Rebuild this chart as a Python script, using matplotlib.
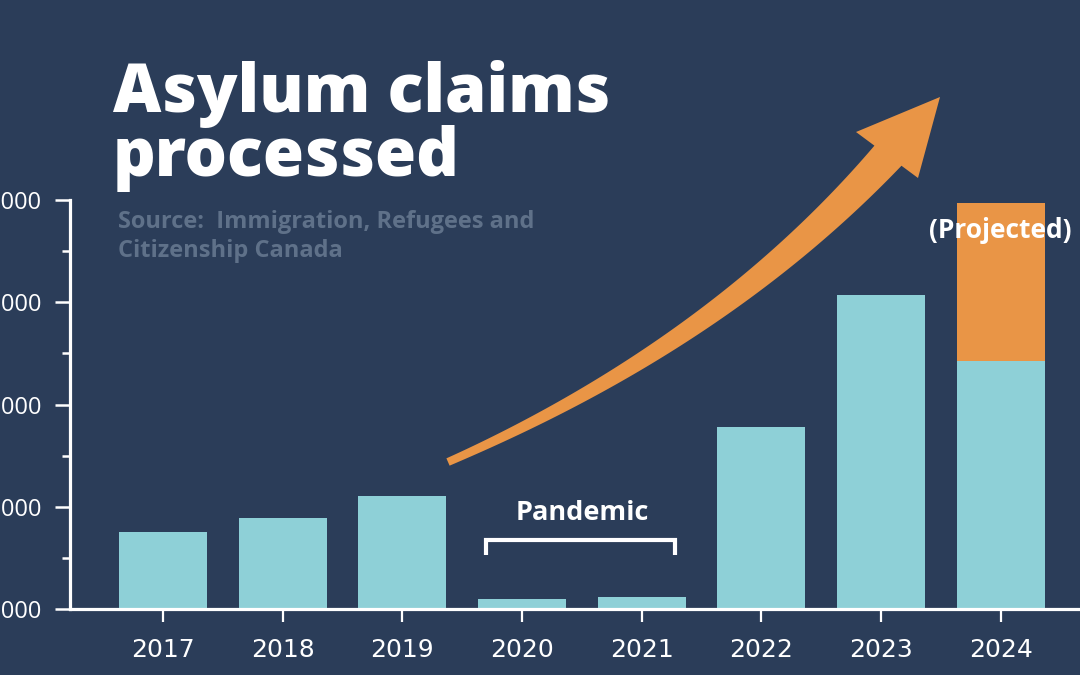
""" Asylum claims processed - bar chart recreation """

import numpy as np
import matplotlib.pyplot as plt
from matplotlib.patches import Polygon
from matplotlib.ticker import FixedLocator

# data
years = ["2017", "2018", "2019", "2020", "2021", "2022", "2023", "2024"]
processed = [35000, 37800, 42100, 21950, 22350, 55600, 81400, 68500]
projected_total = [None, None, None, None, None, None, None, 99400]
y_ticks = [20000, 40000, 60000, 80000, 100000]
y_tick_labels = ["20000", "40000", "60000", "80000", "100000"]
y_minor = [30000, 50000, 70000, 90000]

BG = "#2b3d59"
CYAN = "#8ed0d7"
ORANGE = "#e99546"
GREY = "#5f7189"
WHITE = "#ffffff"

W, H = 1080, 675
fig = plt.figure(figsize=(W / 100, H / 100), dpi=100, facecolor=BG)

# main axes placed in pixel terms
left, right, top, bottom = 70, 1080, 200, 609
ax = fig.add_axes([left / W, (H - bottom) / H, (right - left) / W, (bottom - top) / H])
ax.set_facecolor(BG)

x = np.arange(len(years))
ax.bar(x, processed, width=0.735, color=CYAN, zorder=2)
i_proj = len(years) - 1
ax.bar(x[i_proj], projected_total[i_proj] - processed[i_proj], width=0.735,
       bottom=processed[i_proj], color=ORANGE, zorder=2)

ax.set_xlim(-0.777, 7.661)
ax.set_ylim(y_ticks[0], y_ticks[-1])

for s in ["top", "right"]:
    ax.spines[s].set_visible(False)
for s in ["left", "bottom"]:
    ax.spines[s].set_color(WHITE)
    ax.spines[s].set_linewidth(2.3)
    ax.spines[s].set_zorder(3)

ax.set_xticks(x)
ax.set_xticklabels(years, fontsize=18, color=WHITE, family="Liberation Sans Narrow")
ax.tick_params(axis="x", colors=WHITE, length=9, width=1.6, pad=12, labelcolor=WHITE)

ax.yaxis.set_major_locator(FixedLocator(y_ticks))
ax.yaxis.set_minor_locator(FixedLocator(y_minor))
ax.set_yticklabels(y_tick_labels, fontsize=17, color=WHITE, family="Open Sans")
ax.tick_params(axis="y", which="major", colors=WHITE, length=11, width=1.8, pad=9)
ax.tick_params(axis="y", which="minor", colors=WHITE, length=6, width=1.8)

# overlay in pixel coords for annotations
ov = fig.add_axes([0, 0, 1, 1], zorder=5)
ov.set_xlim(0, W)
ov.set_ylim(H, 0)
ov.axis("off")
ov.patch.set_alpha(0)

ov.text(113, 112, "Asylum claims", fontsize=48, fontweight="heavy", color=WHITE,
        family="Open Sans", va="baseline", ha="left")
ov.text(113, 176, "processed", fontsize=48, fontweight="heavy", color=WHITE,
        family="Open Sans", va="baseline", ha="left")
ov.text(118, 228, "Source:  Immigration, Refugees and", fontsize=17, fontweight="bold",
        color=GREY, family="Open Sans", va="baseline", ha="left")
ov.text(118, 257, "Citizenship Canada", fontsize=17, fontweight="bold",
        color=GREY, family="Open Sans", va="baseline", ha="left")

# pandemic bracket
ov.text(582, 520, "Pandemic", fontsize=19.5, fontweight="bold", color=WHITE,
        family="Open Sans", va="baseline", ha="center")
ov.plot([486, 486, 675, 675], [555, 540, 540, 555], color=WHITE, lw=3,
        solid_joinstyle="miter", solid_capstyle="butt")

ov.text(1000, 238, "(Projected)", fontsize=19, fontweight="bold", color=WHITE,
        family="Open Sans", va="baseline", ha="center")

# curved tapering arrow
p0 = np.array([448.0, 462.0])
p1 = np.array([722.0, 342.0])
p2 = np.array([893.0, 150.0])
t = np.linspace(0, 1, 80)[:, None]
pts = (1 - t) ** 2 * p0 + 2 * (1 - t) * t * p1 + t ** 2 * p2
d = 2 * (1 - t) * (p1 - p0) + 2 * t * (p2 - p1)
d = d / np.linalg.norm(d, axis=1, keepdims=True)
nrm = np.column_stack([-d[:, 1], d[:, 0]])
wid = (8 + 26 * t[:, 0] ** 1.2)[:, None] / 2
shaft = np.vstack([pts + nrm * wid, (pts - nrm * wid)[::-1]])
ov.add_patch(Polygon(shaft, closed=True, color=ORANGE, lw=0))
head = np.array([[940, 97], [856, 132], [918, 178]])
ov.add_patch(Polygon(head, closed=True, color=ORANGE, lw=0))

fig.savefig("out.png", dpi=100, facecolor=BG)
